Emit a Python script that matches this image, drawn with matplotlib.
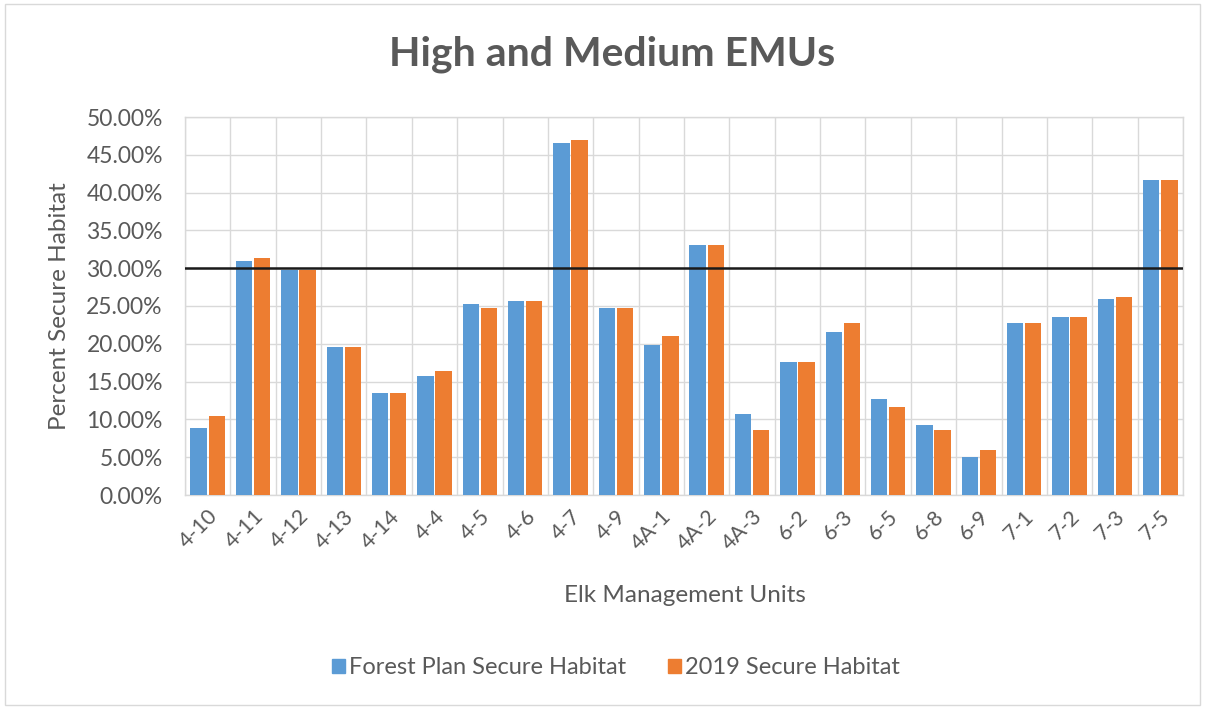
import matplotlib
matplotlib.use("Agg")
import matplotlib.pyplot as plt
import numpy as np
from matplotlib.ticker import FuncFormatter, MultipleLocator
from matplotlib.patches import Rectangle

units = ["4-10", "4-11", "4-12", "4-13", "4-14", "4-4", "4-5", "4-6", "4-7", "4-9",
         "4A-1", "4A-2", "4A-3", "6-2", "6-3", "6-5", "6-8", "6-9", "7-1", "7-2",
         "7-3", "7-5"]
forest_plan = [8.9, 31.0, 29.8, 19.6, 13.5, 15.8, 25.3, 25.6, 46.6, 24.8,
               19.8, 33.1, 10.7, 17.6, 21.6, 12.7, 9.2, 5.0, 22.7, 23.6,
               25.9, 41.7]
secure_2019 = [10.4, 31.4, 29.7, 19.6, 13.5, 16.4, 24.8, 25.6, 46.9, 24.8,
               21.0, 33.1, 8.6, 17.6, 22.7, 11.6, 8.6, 6.0, 22.7, 23.6,
               26.2, 41.7]
threshold = 30.0
series_names = ["Forest Plan Secure Habitat", "2019 Secure Habitat"]

BLUE = "#5B9BD5"
ORANGE = "#ED7D31"
GREY = "#595959"
FONT = "Lato"

fig = plt.figure(figsize=(12.05, 7.09), dpi=100)
fig.patch.set_facecolor("white")
fig.patches.append(Rectangle((0.004, 0.006), 0.992, 0.988, transform=fig.transFigure,
                             fill=False, edgecolor="#D9D9D9", linewidth=1.0))

ax = fig.add_axes([185 / 1205, 1 - 495 / 709, 998 / 1205, 378 / 709])
x = np.arange(len(units))
w = 0.36
ax.bar(x - 0.2, forest_plan, width=w, color=BLUE, zorder=3)
ax.bar(x + 0.2, secure_2019, width=w, color=ORANGE, zorder=3)
ax.axhline(threshold, color="#1a1a1a", linewidth=1.8, zorder=4)

ax.set_xlim(-0.5, len(units) - 0.5)
ax.set_ylim(0, 50)
ax.yaxis.set_major_locator(MultipleLocator(5))
ax.yaxis.set_major_formatter(FuncFormatter(lambda v, p: f"{v:.2f}%"))
ax.set_xticks(x)
ax.set_xticklabels(units, rotation=45, ha="right", rotation_mode="anchor",
                   fontsize=15.5, color=GREY, family=FONT)
for lab in ax.get_yticklabels():
    lab.set_fontsize(16.5)
    lab.set_color(GREY)
    lab.set_family(FONT)
ax.tick_params(axis="both", length=0)
ax.tick_params(axis="y", pad=16)
ax.tick_params(axis="x", pad=8)

# category boundary gridlines plus horizontal gridlines
ax.set_xticks(np.arange(-0.5, len(units), 1.0), minor=True)
ax.grid(axis="x", which="minor", color="#D9D9D9", linewidth=1.0, zorder=0)
ax.grid(axis="y", which="major", color="#D9D9D9", linewidth=1.0, zorder=0)
ax.tick_params(which="minor", length=0)
for s in ax.spines.values():
    s.set_color("#D9D9D9")
    s.set_linewidth(1.0)

fig.text(60 / 1205, 1 - 306 / 709, "Percent Secure Habitat", rotation=90,
         ha="center", va="center", fontsize=17.5, color=GREY, family=FONT)
fig.text(685 / 1205, 1 - 595 / 709, "Elk Management Units",
         ha="center", va="center", fontsize=17.5, color=GREY, family=FONT)

fig.text(612 / 1205, 1 - 54 / 709, "High and Medium EMUs", ha="center", va="center",
         fontsize=29.5, fontweight="bold", color=GREY, family=FONT)

leg = fig.legend(handles=[Rectangle((0, 0), 1, 1, color=BLUE), Rectangle((0, 0), 1, 1, color=ORANGE)],
                 labels=series_names, loc="center", bbox_to_anchor=(616 / 1205, 1 - 668 / 709),
                 ncol=2, frameon=False, handlelength=0.55, handleheight=0.55,
                 handletextpad=0.15, columnspacing=1.8, prop={"family": FONT, "size": 17})
for t in leg.get_texts():
    t.set_color(GREY)

fig.savefig("out.png", dpi=100, facecolor="white")
